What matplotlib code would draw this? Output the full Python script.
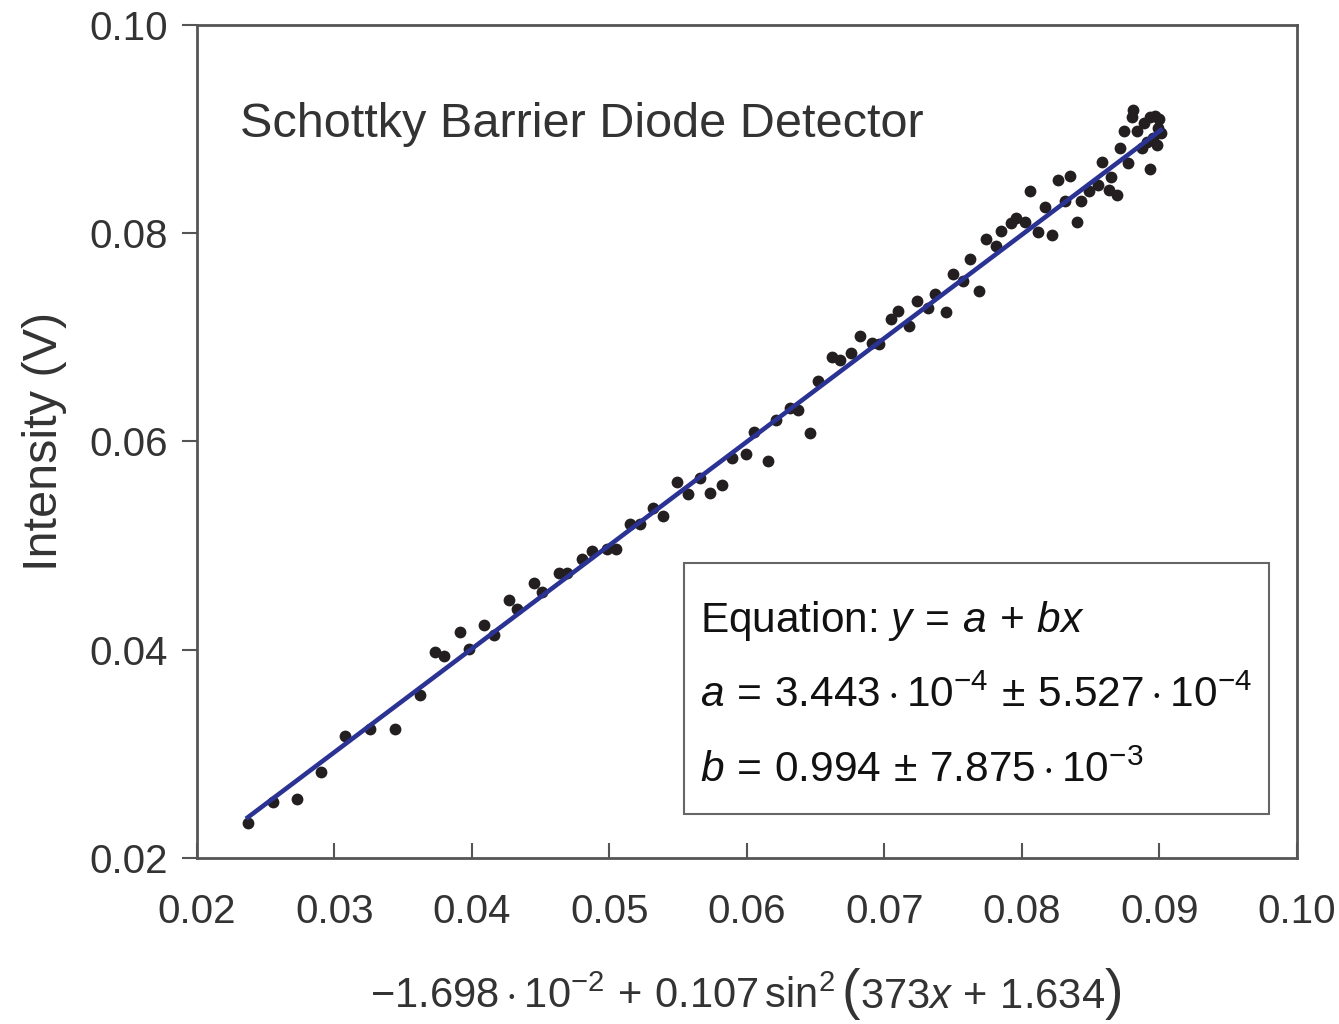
import matplotlib
matplotlib.use('Agg')
import matplotlib.pyplot as plt
from matplotlib.patches import Rectangle
import numpy as np

# measured points (x = transformed sin^2 value, y = intensity in V)
X_DATA = [0.0237, 0.0255, 0.0273, 0.0290, 0.0308, 0.0326, 0.0344, 0.0362,
          0.0373, 0.0380, 0.0391, 0.0398, 0.0409, 0.0416, 0.0427, 0.0433,
          0.0445, 0.0451, 0.0463, 0.0469, 0.0480, 0.0487, 0.0498, 0.0505,
          0.0515, 0.0522, 0.0532, 0.0539, 0.0549, 0.0557, 0.0566, 0.0573,
          0.0582, 0.0589, 0.0599, 0.0605, 0.0615, 0.0621, 0.0631, 0.0637,
          0.0646, 0.0652, 0.0662, 0.0668, 0.0676, 0.0682, 0.0691, 0.0696,
          0.0705, 0.0710, 0.0718, 0.0724, 0.0732, 0.0737, 0.0745, 0.0750,
          0.0757, 0.0762, 0.0769, 0.0774, 0.0781, 0.0785, 0.0792, 0.0796,
          0.0802, 0.0806, 0.0812, 0.0817, 0.0822, 0.0826, 0.0831, 0.0835,
          0.0840, 0.0843, 0.0849, 0.0855, 0.0858, 0.0863, 0.0865, 0.0869,
          0.0871, 0.0874, 0.0877, 0.0880, 0.0881, 0.0884, 0.0887, 0.0889,
          0.0893, 0.0897, 0.0900, 0.0899, 0.0895, 0.0891, 0.0898, 0.0893,
          0.0901]
Y_DATA = [0.0234, 0.0254, 0.0257, 0.0283, 0.0317, 0.0324, 0.0324, 0.0357,
          0.0398, 0.0394, 0.0417, 0.0401, 0.0424, 0.0414, 0.0448, 0.0439,
          0.0464, 0.0455, 0.0474, 0.0474, 0.0487, 0.0495, 0.0497, 0.0497,
          0.0521, 0.0521, 0.0536, 0.0528, 0.0561, 0.0550, 0.0565, 0.0551,
          0.0558, 0.0584, 0.0588, 0.0609, 0.0581, 0.0621, 0.0632, 0.0630,
          0.0608, 0.0658, 0.0681, 0.0678, 0.0685, 0.0701, 0.0695, 0.0694,
          0.0718, 0.0725, 0.0711, 0.0735, 0.0728, 0.0742, 0.0724, 0.0761,
          0.0754, 0.0775, 0.0745, 0.0794, 0.0788, 0.0802, 0.0810, 0.0815,
          0.0811, 0.0841, 0.0801, 0.0825, 0.0798, 0.0851, 0.0831, 0.0855,
          0.0811, 0.0831, 0.0841, 0.0846, 0.0868, 0.0842, 0.0854, 0.0837,
          0.0882, 0.0898, 0.0867, 0.0912, 0.0918, 0.0898, 0.0882, 0.0906,
          0.0912, 0.0913, 0.0910, 0.0901, 0.0891, 0.0888, 0.0885, 0.0862,
          0.0896]

FIT_A = 3.443e-4
FIT_B = 0.994

X_TICKS = [0.02, 0.03, 0.04, 0.05, 0.06, 0.07, 0.08, 0.09, 0.10]
Y_TICKS = [0.02, 0.04, 0.06, 0.08, 0.10]

TEXT_COLOR = '#333333'
SPINE_COLOR = '#555555'
POINT_COLOR = '#231f20'
LINE_COLOR = '#2a3393'

plt.rcParams['font.family'] = ['Liberation Sans', 'DejaVu Sans']
plt.rcParams['mathtext.fontset'] = 'custom'
plt.rcParams['mathtext.rm'] = 'Liberation Sans'
plt.rcParams['mathtext.it'] = 'Liberation Sans:italic'
plt.rcParams['mathtext.bf'] = 'Liberation Sans:bold'

fig = plt.figure(figsize=(13.39, 10.24), dpi=100)
ax = fig.add_axes([0.1471, 0.1621, 0.9686 - 0.1471, 0.9756 - 0.1621])

ax.plot(X_DATA, Y_DATA, 'o', color=POINT_COLOR, markersize=8.5,
        markeredgewidth=0, zorder=3)
x_fit = np.array([min(X_DATA), max(X_DATA)])
ax.plot(x_fit, FIT_A + FIT_B * x_fit, color=LINE_COLOR, lw=3.3, zorder=4)

ax.set_xlim(0.02, 0.10)
ax.set_ylim(0.02, 0.10)
ax.set_xticks(X_TICKS)
ax.set_yticks(Y_TICKS)
ax.set_xticklabels(['%.2f' % t for t in X_TICKS])
ax.set_yticklabels(['%.2f' % t for t in Y_TICKS])
ax.tick_params(axis='x', direction='in', length=11, width=1.5,
               color=SPINE_COLOR, labelsize=29, labelcolor=TEXT_COLOR, pad=25)
ax.tick_params(axis='y', direction='out', length=11, width=1.5,
               color=SPINE_COLOR, labelsize=29, labelcolor=TEXT_COLOR, pad=10)
for sp in ax.spines.values():
    sp.set_color(SPINE_COLOR)
    sp.set_linewidth(2)

ax.set_ylabel('Intensity (V)', fontsize=35, color=TEXT_COLOR, labelpad=16)

ax.text(0.039, 0.866, 'Schottky Barrier Diode Detector', transform=ax.transAxes,
        fontsize=35, color=TEXT_COLOR, va='baseline', ha='left')

# fit result box
ax.add_patch(Rectangle((0.4427, 0.0528), 0.9745 - 0.4427, 0.3541 - 0.0528,
                       transform=ax.transAxes, fill=False,
                       edgecolor='#666666', lw=1.5, zorder=5))
box_lines = [r'Equation: $y\,=\,a\,+\,bx$',
             r'$a\,=\,3.443\cdot10^{-4}\,\pm\,5.527\cdot10^{-4}$',
             r'$b\,=\,0.994\,\pm\,7.875\cdot10^{-3}$']
for line, yb in zip(box_lines, [0.2713, 0.1813, 0.0912]):
    ax.text(0.4573, yb, line, transform=ax.transAxes, fontsize=30.5,
            color='#111111', va='baseline', ha='left', zorder=6)

# x label built from pieces so the parentheses can be taller
label_parts = [(r'$-1.698\cdot10^{-2}\,+\,0.107\,\mathrm{sin}^{2}$', 30, 6),
               ('(', 40, 0),
               (r'$373x\,+\,1.634$', 30, 0),
               (')', 40, 0)]
renderer = fig.canvas.get_renderer()
texts, widths = [], []
for s, fs, gap in label_parts:
    t = fig.text(0, 0.0156, s, fontsize=fs, color=TEXT_COLOR,
                 va='baseline', ha='left')
    texts.append(t)
    widths.append(t.get_window_extent(renderer).width + gap)
fig_w = fig.get_figwidth() * fig.dpi
x_center = ax.get_position().x0 + ax.get_position().width / 2
x_px = x_center * fig_w - sum(widths) / 2
for t, w in zip(texts, widths):
    t.set_x(x_px / fig_w)
    x_px += w

fig.savefig('out.png', dpi=100)
